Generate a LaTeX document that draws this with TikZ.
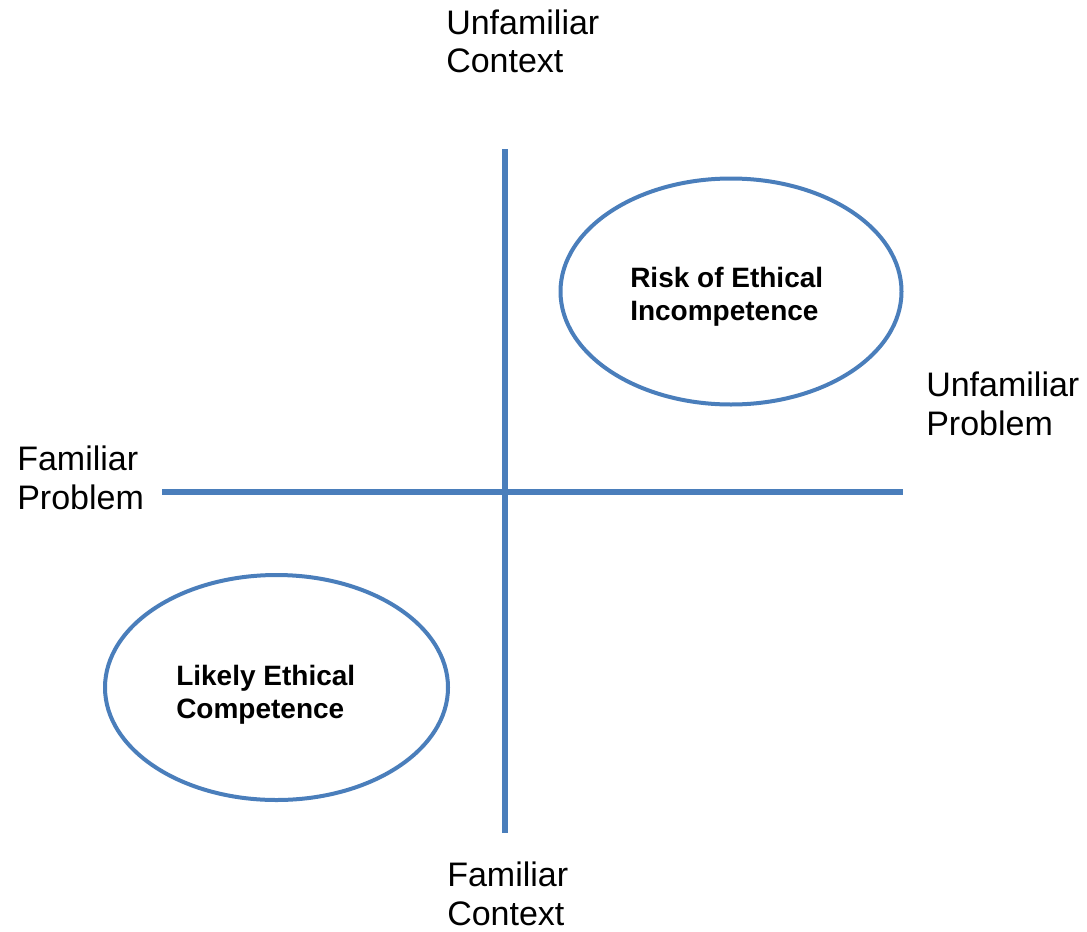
\documentclass[tikz,border=0pt]{standalone}
\usepackage{fontspec}
\setmainfont{Liberation Sans}
\usetikzlibrary{shapes.geometric}
\definecolor{axisblue}{RGB}{74,126,187}
\tikzset{
  axisline/.style={draw=axisblue, line width=3.9pt},
  ring/.style={draw=axisblue, line width=3pt, ellipse, inner sep=0pt},
  axislabel/.style={anchor=base west, inner sep=0pt, align=left, font=\fontsize{25.5pt}{29pt}\selectfont},
  quadlabel/.style={anchor=base west, inner sep=0pt, align=left, font=\bfseries\fontsize{21pt}{24.5pt}\selectfont}
}
\begin{document}
\begin{tikzpicture}[x=0.75pt,y=-0.75pt]
\useasboundingbox (0,0) rectangle (1087,931);
% axes
\coordinate (vtop) at (505,149);
\coordinate (vbot) at (505,833);
\coordinate (hleft) at (162,492);
\coordinate (hright) at (903,492);
\draw[axisline] (vtop) -- (vbot);
\draw[axisline] (hleft) -- (hright);
% ellipses
\node[ring, minimum width=255.75pt, minimum height=169.5pt] (riskring) at (731,291.5) {};
\node[ring, minimum width=257.25pt, minimum height=168.75pt] (likelyring) at (276.5,687.5) {};
% quadrant labels (anchor at baseline of last line)
\node[quadlabel] (risk) at (630,320) {Risk of Ethical\\Incompetence};
\node[quadlabel] (likely) at (176,718) {Likely Ethical\\Competence};
% axis labels
\node[axislabel] (uc) at (446,73) {Unfamiliar\\Context};
\node[axislabel] (fc) at (447,925) {Familiar\\Context};
\node[axislabel] (fp) at (17,509) {Familiar\\Problem};
\node[axislabel] (up) at (926,435) {Unfamiliar\\Problem};
\end{tikzpicture}
\end{document}
